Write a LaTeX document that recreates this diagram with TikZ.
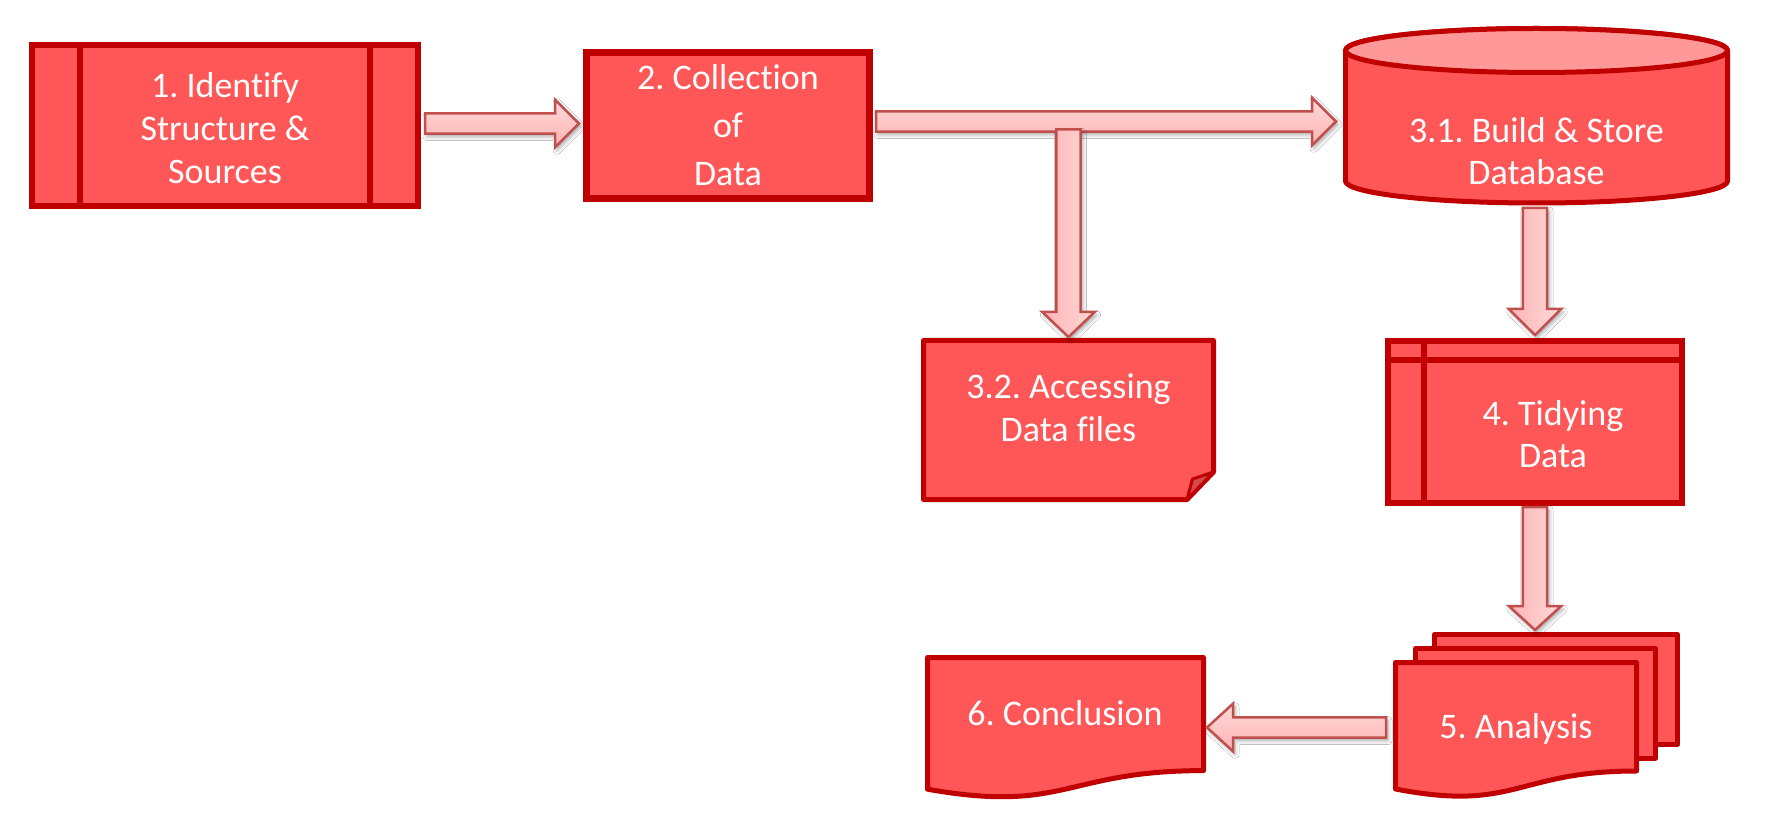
\documentclass[tikz,border=0pt]{standalone}
\usepackage{fontspec}
\setmainfont{Carlito}[Ligatures={NoCommon}]
\frenchspacing
\usetikzlibrary{calc,shadows.blur}
\definecolor{boxfill}{HTML}{FF5757}
\definecolor{boxline}{HTML}{C00000}
\definecolor{cyltop}{HTML}{FF9999}
\definecolor{arrline}{HTML}{C0504D}
\definecolor{arrlight}{HTML}{FFD9D9}
\definecolor{arrdark}{HTML}{FFB3B3}
\definecolor{flapcol}{HTML}{D94A4A}
\newcommand{\blockarrow}[6]{%
  \path[#1] let \p1=(#2), \p2=(#3), \n1={atan2(\y2-\y1,\x2-\x1)},
    \p3=($(\p2)+(\n1+180:#6)$) in
    ($(\p1)+(\n1+90:#4)$) -- ($(\p3)+(\n1+90:#4)$) -- ($(\p3)+(\n1+90:#5)$) --
    (\p2) -- ($(\p3)+(\n1-90:#5)$) -- ($(\p3)+(\n1-90:#4)$) -- ($(\p1)+(\n1-90:#4)$) -- cycle;}
\tikzset{
  txt/.style={font=\fontsize{18pt}{21.5pt}\selectfont, text=white, align=center},
  box/.style={draw=boxline, fill=boxfill, line width=3pt, inner sep=0pt, txt},
  shapeline/.style={draw=boxline, fill=boxfill, line width=2.5pt, line join=round},
  divider/.style={draw=boxline, line width=2.75pt},
  frame/.style={inner sep=0pt, outer sep=0pt},
  lbl/.style={txt, inner sep=0pt},
  barrow/.style={draw=arrline, line width=1.25pt, line join=miter,
    blur shadow={shadow xshift=1pt, shadow yshift=-1.5pt, shadow blur radius=2pt, shadow opacity=35}},
  harrow/.style={barrow, top color=arrlight, bottom color=arrdark},
  varrow/.style={barrow, left color=arrdark, right color=arrlight},
}
\begin{document}
\begin{tikzpicture}[x=0.5pt, y=-0.5pt]
\useasboundingbox[fill=white] (0,0) rectangle (1772,828);

% 1. Identify
\node[box, minimum width=193pt, minimum height=80.5pt] (n1) at (225,125.5) {};
\node[lbl] (t1) at (225,128) {1. Identify\\Structure \&\\Sources};
\draw[divider] (80,45) -- (80,206);
\draw[divider] (370,45) -- (370,206);

% 2. Collection
\node[box, line width=3.5pt, minimum width=141.5pt, minimum height=73pt,
  font=\fontsize{18pt}{24pt}\selectfont] (n2) at (728,125.5)
  {2. Collection\\of\\Data};

% 3.1 cylinder
\node[frame, minimum width=193.5pt, minimum height=89.5pt] (n31) at (1536.5,115.5) {};
\path[shapeline] (1345.5,50.5) -- (1345.5,181)
  arc[start angle=180, end angle=360, x radius=95.5pt, y radius=11pt]
  -- (1727.5,50.5)
  arc[start angle=0, end angle=180, x radius=95.5pt, y radius=11pt] -- cycle;
\path[shapeline, fill=cyltop] (1536.5,50.5) ellipse[x radius=95.5pt, y radius=11pt];
\node[lbl, font=\fontsize{18pt}{21pt}\selectfont] (t31) at (1536.5,151.5) {3.1. Build \& Store\\Database};

% 3.2 note
\node[frame, minimum width=147.5pt, minimum height=82pt] (n32) at (1068.5,420) {};
\path[shapeline] (923.5,340.5) -- (1213.5,340.5) -- (1213.5,472) -- (1187,499.5) -- (923.5,499.5) -- cycle;
\path[draw=boxline, fill=flapcol, line width=1.5pt, line join=round]
  (1187,499.5) -- (1192.5,479) -- (1213.5,472) -- cycle;
\node[lbl] (t32) at (1068.5,407.5) {3.2. Accessing\\Data files};

% 4. Tidying
\node[box, minimum width=147pt, minimum height=81pt] (n4) at (1535,422) {};
\draw[divider, line width=3pt] (1388,360) -- (1682,360);
\draw[divider, line width=3pt] (1424,341) -- (1424,503);
\node[lbl, font=\fontsize{18pt}{21pt}\selectfont] (t4) at (1553,434) {4. Tidying\\Data};

% 5. Analysis (multi-document)
\node[frame, minimum width=143.5pt, minimum height=82.5pt] (n5) at (1536.5,714.5) {};
\path[shapeline] (1434.5,634.5) rectangle (1677.5,744);
\path[shapeline] (1415.5,648.5) rectangle (1655.5,758);
\path[shapeline] (1395.5,662.5) -- (1636.5,662.5) -- (1636.5,771)
  .. controls (1516,771) and (1516,812.3) .. (1395.5,789) -- cycle;
\node[lbl, anchor=base] (t5) at (1516,738) {5. Analysis};

% 6. Conclusion (document)
\node[frame, minimum width=140.5pt, minimum height=71pt] (n6) at (1065.5,726) {};
\path[shapeline] (927.5,657.5) -- (1203.5,657.5) -- (1203.5,770.6)
  .. controls (1065.5,770.6) and (1065.5,813.7) .. (927.5,789.2) -- cycle;
\node[lbl, anchor=base] (t6) at (1065,725) {6. Conclusion};

% connectors
\coordinate (a1s) at ($(n1.east)+(4,-2)$);
\coordinate (a1e) at ($(n2.west)+(-4,-2)$);
\blockarrow{harrow}{a1s}{a1e}{5.1pt}{11.9pt}{12pt}

\coordinate (a2s) at ($(n2.east)+(3,-4)$);
\coordinate (a2e) at ($(n31.west)+(-7,6)$);
\blockarrow{harrow}{a2s}{a2e}{5.1pt}{11.9pt}{12pt}

\coordinate (abs) at ($(n32.north |- a2s)+(0,8)$);
\coordinate (abe) at ($(n32.north)+(0,-1)$);
\blockarrow{varrow}{abs}{abe}{6.1pt}{13.1pt}{12.5pt}

\coordinate (a3s) at ($(n4.north |- n31.south)+(0,3)$);
\coordinate (a3e) at ($(n4.north)+(0,-3)$);
\blockarrow{varrow}{a3s}{a3e}{6.1pt}{13.1pt}{13pt}

\coordinate (a4s) at ($(n4.south)+(0,1)$);
\coordinate (a4e) at ($(n4.south |- n5.north)+(0,-2)$);
\blockarrow{varrow}{a4s}{a4e}{6.1pt}{13.1pt}{12pt}

\coordinate (a5s) at ($(n5.west)+(-7,13)$);
\coordinate (a5e) at ($(n6.east)+(1,1.5)$);
\blockarrow{harrow}{a5s}{a5e}{5.1pt}{11.9pt}{13pt}
\end{tikzpicture}
\end{document}
